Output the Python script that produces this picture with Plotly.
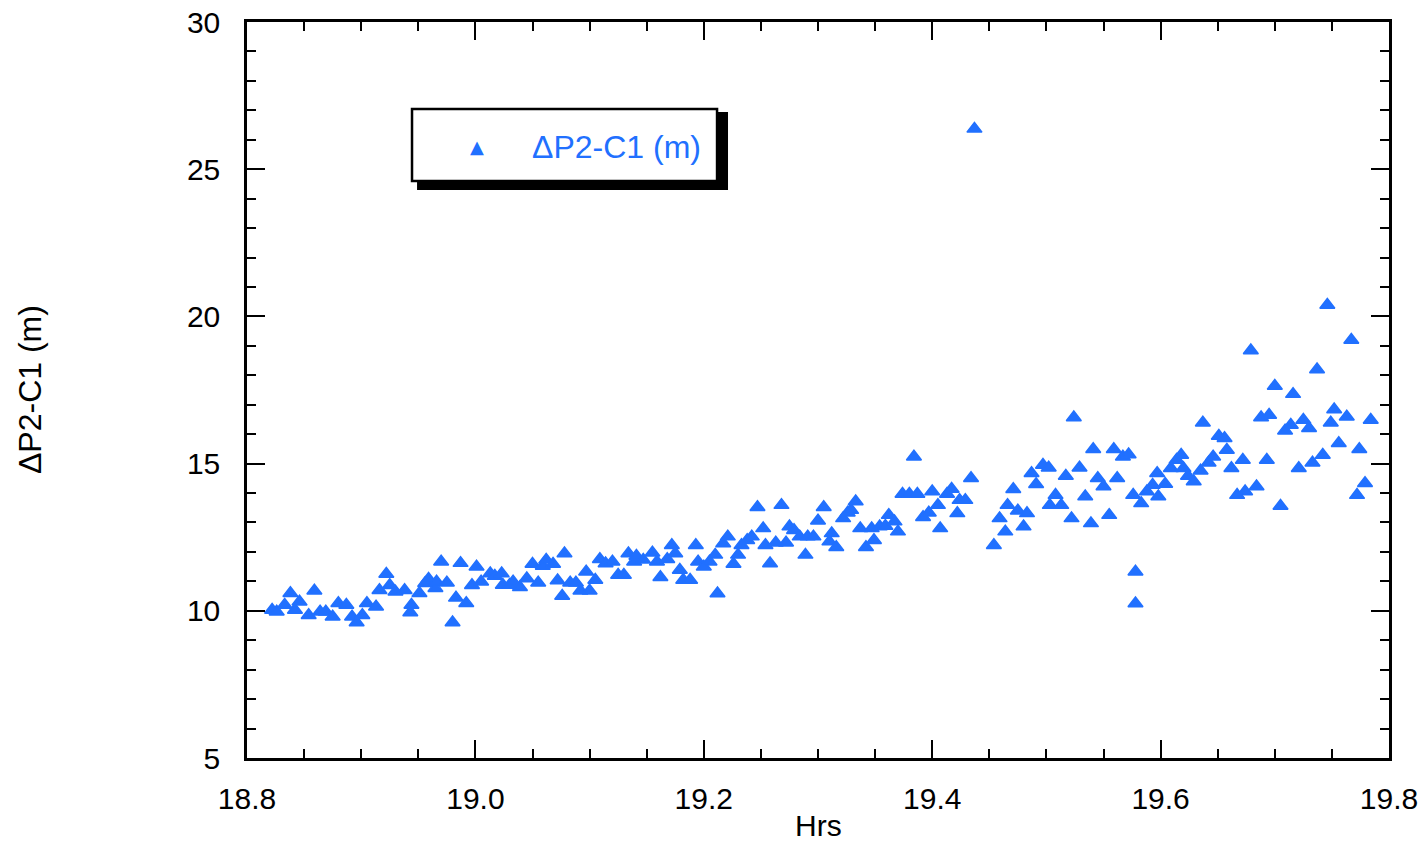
import plotly.graph_objects as go

# Time (hours) and ΔP2-C1 (m) values
hrs = [
    18.822, 18.826, 18.833, 18.838, 18.842, 18.846, 18.854, 18.859, 18.864, 18.869,
    18.875, 18.880, 18.887, 18.892, 18.896, 18.901, 18.905, 18.913, 18.916, 18.922,
    18.925, 18.930, 18.938, 18.943, 18.944, 18.951, 18.956, 18.959, 18.965, 18.966,
    18.970, 18.975, 18.980, 18.983, 18.987, 18.992, 18.997, 19.001, 19.005,
    19.013, 19.017, 19.023, 19.024, 19.030, 19.033, 19.039, 19.045, 19.050, 19.055,
    19.059, 19.062, 19.068, 19.072, 19.076, 19.078, 19.083, 19.088, 19.092, 19.097,
    19.100, 19.105, 19.109, 19.114, 19.120, 19.125, 19.130, 19.134, 19.139, 19.141,
    19.147, 19.155, 19.159, 19.162, 19.168, 19.172, 19.175, 19.179, 19.182, 19.188,
    19.193, 19.195, 19.200, 19.205, 19.210, 19.212,
    19.217, 19.221, 19.226, 19.230, 19.233, 19.238, 19.242, 19.247, 19.252, 19.254,
    19.258, 19.263, 19.268, 19.272, 19.275, 19.279, 19.284, 19.289, 19.291, 19.296,
    19.300, 19.305, 19.310, 19.312, 19.316, 19.322, 19.326, 19.329, 19.333, 19.337,
    19.342, 19.347, 19.349, 19.354, 19.359, 19.362, 19.367, 19.370, 19.374, 19.380,
    19.384, 19.387, 19.392, 19.397, 19.400, 19.405, 19.407, 19.413,
    19.417, 19.422, 19.424, 19.429, 19.434, 19.437, 19.454, 19.459, 19.464, 19.466,
    19.471, 19.475, 19.480, 19.483, 19.487, 19.491, 19.497, 19.502, 19.503, 19.508,
    19.513, 19.517, 19.522, 19.524, 19.529, 19.534, 19.539, 19.541, 19.545, 19.550,
    19.555, 19.559, 19.562, 19.567, 19.572, 19.576, 19.578, 19.578, 19.583, 19.588,
    19.593, 19.597, 19.598,
    19.604, 19.609, 19.614, 19.618, 19.620, 19.624, 19.629, 19.635, 19.637, 19.642,
    19.646, 19.651, 19.656, 19.658, 19.662, 19.667, 19.672, 19.674, 19.679, 19.684,
    19.688, 19.693, 19.695, 19.700, 19.705, 19.709, 19.714, 19.716, 19.721, 19.725,
    19.730, 19.733, 19.737, 19.742, 19.746, 19.749, 19.752, 19.756, 19.763, 19.767,
    19.772, 19.774, 19.779, 19.784,
]

dp2_c1 = [
    10.03, 9.97, 10.20, 10.60, 10.03, 10.31, 9.85, 10.68, 9.97, 9.97,
    9.80, 10.26, 10.20, 9.80, 9.60, 9.85, 10.26, 10.14, 10.70, 11.25,
    10.87, 10.65, 10.70, 9.94, 10.20, 10.60, 10.94, 11.08, 10.77, 10.99,
    11.67, 10.95, 9.60, 10.44, 11.62, 10.26, 10.87, 11.50, 10.99,
    11.27, 11.18, 11.27, 10.88, 10.88, 10.99, 10.80, 11.10, 11.59, 10.95,
    11.52, 11.73, 11.59, 11.03, 10.50, 11.95, 10.95, 10.95, 10.68, 11.33,
    10.68, 11.05, 11.75, 11.61, 11.67, 11.22, 11.22, 11.95, 11.67, 11.86,
    11.73, 11.97, 11.67, 11.14, 11.75, 12.23, 11.95, 11.39, 11.05, 11.05,
    12.23, 11.67, 11.50, 11.67, 11.90, 10.59,
    12.29, 12.52, 11.59, 11.90, 12.23, 12.40, 12.52, 13.52, 12.80, 12.23,
    11.61, 12.31, 13.59, 12.31, 12.86, 12.74, 12.52, 11.90, 12.52, 12.52,
    13.06, 13.52, 12.35, 12.63, 12.16, 13.14, 13.33, 13.42, 13.71, 12.80,
    12.16, 12.80, 12.40, 12.86, 12.88, 13.25, 13.03, 12.69, 13.97, 13.97,
    15.23, 13.97, 13.18, 13.33, 14.05, 13.59, 12.80, 13.97,
    14.14, 13.31, 13.76, 13.76, 14.50, 26.37, 12.23, 13.14, 12.69, 13.59,
    14.13, 13.40, 12.86, 13.31, 14.67, 14.30, 14.95, 14.86, 13.59, 13.93,
    13.59, 14.58, 13.14, 16.57, 14.86, 13.88, 12.97, 15.49, 14.50, 14.22,
    13.25, 15.49, 14.50, 15.23, 15.31, 13.93, 11.33, 10.25, 13.65, 14.05,
    14.27, 14.67, 13.88,
    14.31, 14.84, 15.12, 15.29, 14.84, 14.58, 14.39, 14.76, 16.39, 15.03,
    15.23, 15.94, 15.86, 15.46, 14.84, 13.93, 15.12, 14.05, 18.84, 14.22,
    16.57, 15.12, 16.65, 17.64, 13.56, 16.12, 16.31, 17.36, 14.84, 16.48,
    16.20, 15.03, 18.20, 15.29, 20.39, 16.39, 16.84, 15.69, 16.59, 19.20,
    13.93, 15.49, 14.33, 16.48,
]

series_name = "ΔP2-C1 (m)"
x_title = "Hrs"
y_title = "ΔP2-C1 (m)"

BLUE = "#2170FF"
FONT = "Liberation Sans, Arial, sans-serif"

fig = go.Figure()
fig.add_trace(go.Scatter(
    x=hrs, y=dp2_c1, mode="markers", name=series_name, showlegend=False,
    marker=dict(symbol="triangle-up", size=13, color=BLUE,
                line=dict(color=BLUE, width=1.5)),
))

axis_common = dict(
    showgrid=False, zeroline=False, showline=True, linecolor="black", linewidth=2.5,
    mirror="allticks", ticks="inside", ticklen=18, tickwidth=2, tickcolor="black",
    tickfont=dict(family=FONT, size=30, color="black"), automargin=False,
)

fig.update_xaxes(range=[18.8, 19.8], dtick=0.2, tick0=18.8, tickformat=".1f",
                 minor=dict(dtick=0.05, ticklen=9, tickwidth=2, tickcolor="black", ticks="inside"),
                 ticklabelstandoff=12, **axis_common)
fig.update_yaxes(range=[5, 30], dtick=5, tick0=5,
                 minor=dict(dtick=1, ticklen=9, tickwidth=2, tickcolor="black", ticks="inside"),
                 ticklabelstandoff=18, **axis_common)

# Legend box with drop shadow
fig.add_shape(type="rect", xref="paper", yref="paper", x0=0.1489, x1=0.4212, y0=0.7717, y1=0.8777,
              fillcolor="black", line=dict(width=0), layer="above")
fig.add_shape(type="rect", xref="paper", yref="paper", x0=0.1445, x1=0.4116, y0=0.7840, y1=0.8818,
              fillcolor="white", line=dict(color="black", width=2.5), layer="above")

annotations = [
    dict(text="▲", x=0.2014, y=0.8315, xref="paper", yref="paper", showarrow=False,
         xanchor="center", yanchor="middle", font=dict(family="DejaVu Sans", size=18, color=BLUE)),
    dict(text=series_name, x=0.2480, y=0.8302, xref="paper", yref="paper", showarrow=False,
         xanchor="left", yanchor="middle", font=dict(family=FONT, size=32, color=BLUE)),
    dict(text=x_title, x=0.5, y=-0.0917, xref="paper", yref="paper", showarrow=False,
         xanchor="center", yanchor="middle", font=dict(family=FONT, size=30, color="black")),
    dict(text=y_title, x=-0.190, y=0.5, xref="paper", yref="paper", showarrow=False,
         textangle=-90, xanchor="center", yanchor="middle",
         font=dict(family=FONT, size=32, color="black")),
]

fig.update_layout(
    width=1426, height=841,
    margin=dict(l=247, r=37, t=22, b=83, autoexpand=False),
    paper_bgcolor="white", plot_bgcolor="white",
    showlegend=False,
    annotations=annotations,
    font=dict(family=FONT, color="black"),
)

fig.write_html("out.html", config={"displayModeBar": False},
               post_script="document.body.style.margin='0';document.body.style.padding='0';document.body.style.overflow='hidden';")
